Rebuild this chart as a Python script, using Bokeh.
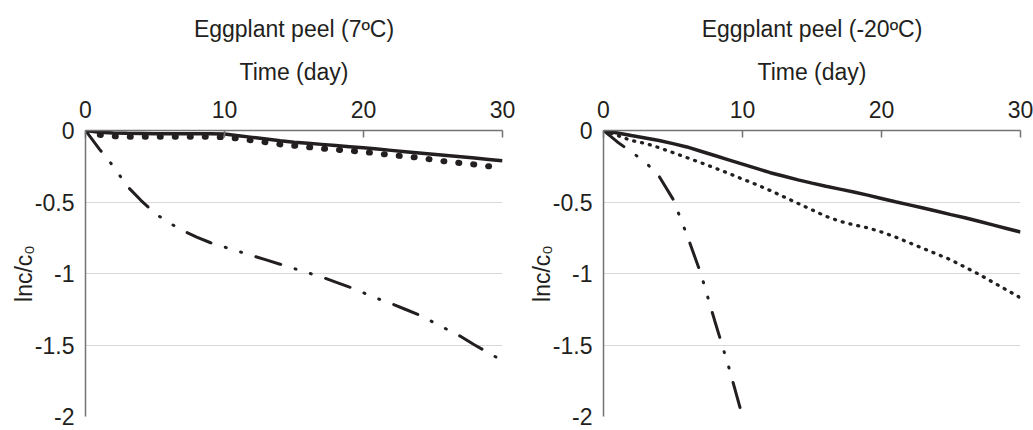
from bokeh.plotting import figure
from bokeh.layouts import row
from bokeh.models import Range1d, FixedTicker
from bokeh.embed import file_html
from bokeh.resources import INLINE

# ---------------- data ----------------
titles = ["Eggplant peel (7ºC)", "Eggplant peel (-20ºC)"]
x_label = "Time (day)"
y_label = "lnc/c₀"

x_ticks = [0, 10, 20, 30]
y_ticks = [0, -0.5, -1, -1.5, -2]
y_tick_labels = ["0", "-0.5", "-1", "-1.5", "-2"]

# Eggplant peel, 7 ºC
days_7 = list(range(31))
solid_7 = [0, -0.012, -0.018, -0.02, -0.021, -0.022, -0.022, -0.022, -0.022, -0.023,
           -0.025, -0.036, -0.048, -0.06, -0.072, -0.082, -0.089, -0.097, -0.105, -0.113,
           -0.121, -0.13, -0.139, -0.148, -0.157, -0.166, -0.175, -0.184, -0.193, -0.202, -0.212]
dotted_7 = [0, -0.03, -0.04, -0.043, -0.043, -0.043, -0.043, -0.043, -0.043, -0.044,
            -0.047, -0.056, -0.07, -0.083, -0.097, -0.106, -0.116, -0.126, -0.134, -0.141,
            -0.15, -0.16, -0.172, -0.181, -0.19, -0.205, -0.218, -0.228, -0.238, -0.25, -0.262]
dashdot_7 = [0, -0.13, -0.25, -0.39, -0.49, -0.58, -0.645, -0.70, -0.745, -0.785,
             -0.815, -0.845, -0.875, -0.905, -0.935, -0.965, -0.995, -1.025, -1.06, -1.095,
             -1.135, -1.175, -1.21, -1.25, -1.29, -1.34, -1.39, -1.44, -1.50, -1.555, -1.61]

# Eggplant peel, -20 ºC
days_m20 = list(range(31))
solid_m20 = [0, -0.017, -0.035, -0.052, -0.07, -0.092, -0.115, -0.145, -0.175, -0.205,
             -0.235, -0.265, -0.295, -0.32, -0.345, -0.368, -0.39, -0.41, -0.43, -0.452,
             -0.475, -0.498, -0.52, -0.542, -0.565, -0.588, -0.61, -0.635, -0.66, -0.685, -0.71]
dotted_m20 = [0, -0.035, -0.07, -0.09, -0.12, -0.155, -0.19, -0.225, -0.262, -0.30,
              -0.34, -0.378, -0.42, -0.465, -0.51, -0.555, -0.6, -0.635, -0.66, -0.68,
              -0.71, -0.745, -0.785, -0.825, -0.865, -0.905, -0.955, -1.005, -1.06, -1.115, -1.17]
days_dd_m20 = list(range(11))
dashdot_m20 = [0, -0.08, -0.15, -0.22, -0.32, -0.48, -0.73, -1.0, -1.33, -1.65, -2.0]

# ---------------- styling ----------------
FONT = "Liberation Sans"
TXT = "#231f20"
INK = "#231f20"
AXIS = "#737373"
GRID = "#d9d9d9"
FS = "23px"


def make_fig(title, width, b_left, b_right):
    p = figure(width=width, height=430, x_axis_location="above",
               x_range=Range1d(0, 30), y_range=Range1d(-2, 0),
               output_backend="svg", toolbar_location=None,
               min_border_left=b_left, min_border_right=b_right,
               min_border_top=129, min_border_bottom=14)
    p.outline_line_color = None
    p.background_fill_color = "white"
    p.border_fill_color = "white"

    p.title.text = title
    p.title.align = "center"
    p.title.text_font = FONT
    p.title.text_font_size = FS
    p.title.text_font_style = "normal"
    p.title.text_color = TXT
    p.title.standoff = 27

    xa = p.xaxis[0]
    xa.ticker = FixedTicker(ticks=x_ticks)
    xa.axis_label = x_label
    xa.axis_label_text_font = FONT
    xa.axis_label_text_font_size = FS
    xa.axis_label_text_font_style = "normal"
    xa.axis_label_text_color = TXT
    xa.axis_label_standoff = 13
    xa.major_label_text_font = FONT
    xa.major_label_text_font_size = FS
    xa.major_label_text_color = TXT
    xa.major_label_standoff = 13
    xa.major_tick_in = 7
    xa.major_tick_out = 0
    xa.minor_tick_line_color = None
    xa.axis_line_color = AXIS
    xa.axis_line_width = 1.5
    xa.major_tick_line_color = AXIS
    xa.major_tick_line_width = 1.5

    ya = p.yaxis[0]
    ya.ticker = FixedTicker(ticks=y_ticks)
    ya.major_label_overrides = {float(t): s for t, s in zip(y_ticks, y_tick_labels)}
    ya.axis_label = y_label
    ya.axis_label_text_font = FONT
    ya.axis_label_text_font_size = FS
    ya.axis_label_text_font_style = "normal"
    ya.axis_label_text_color = TXT
    ya.axis_label_standoff = -5
    ya.major_label_text_font = FONT
    ya.major_label_text_font_size = FS
    ya.major_label_text_color = TXT
    ya.major_label_standoff = 11
    ya.major_tick_in = 0
    ya.major_tick_out = 0
    ya.minor_tick_line_color = None
    ya.axis_line_color = AXIS
    ya.axis_line_width = 1.5

    p.xgrid.visible = False
    p.ygrid.ticker = FixedTicker(ticks=y_ticks)
    p.ygrid.grid_line_color = GRID
    p.ygrid.grid_line_width = 1.2
    return p


p1 = make_fig(titles[0], 517, 85, 15)
p1.line(days_7, dashdot_7, line_color=INK, line_width=3, line_cap="round",
        line_dash="26 15 1 15 1 15")
p1.line(days_7, dotted_7, line_color=INK, line_width=6, line_cap="round",
        line_dash="1 14")
p1.line(days_7, solid_7, line_color=INK, line_width=3.5)

p2 = make_fig(titles[1], 516, 86, 13)
p2.line(days_dd_m20, dashdot_m20, line_color=INK, line_width=3, line_cap="round",
        line_dash="26 15 1 15 1 15")
p2.line(days_m20, dotted_m20, line_color=INK, line_width=3.3, line_cap="round",
        line_dash="1 7")
p2.line(days_m20, solid_m20, line_color=INK, line_width=3.5)

layout = row(p1, p2, spacing=0)

with open("out.html", "w") as f:
    f.write(file_html(layout, INLINE))
